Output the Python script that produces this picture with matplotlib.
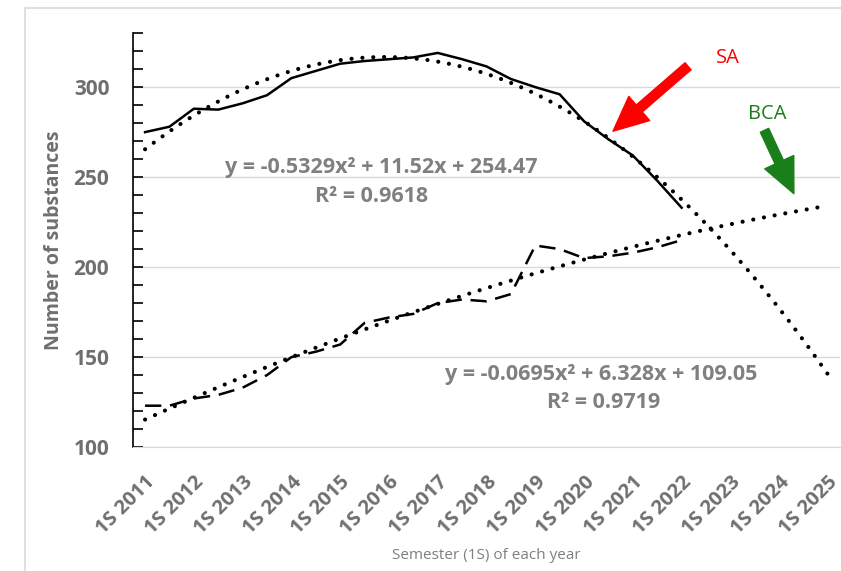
import numpy as np
import matplotlib.pyplot as plt
from matplotlib.patches import Rectangle

# one point per semester, 1 = 1S 2011 ... 29 = 1S 2025
semester = np.arange(1, 24)
sa_counts = [275, 278, 288, 287.5, 291, 295.5, 305, 309, 313, 314.5, 315.5,
             316.5, 319, 315.5, 311.5, 304.5, 300, 296, 281, 271, 262, 248, 233]
bca_counts = [123, 123, 127, 129, 133, 140, 150, 153, 157, 169, 172,
              174, 180, 182, 181, 185, 212, 210, 205, 206, 208, 211, 215]

# polynomial trend lines as printed on the chart (forecast to 1S 2025)
sa_coef = [-0.5329, 11.52, 254.47]
bca_coef = [-0.0695, 6.328, 109.05]
last_semester = 29

tick_pos = np.arange(1, last_semester + 1, 2)
tick_labels = [f"1S {y}" for y in range(2011, 2026)]

grey = '#6f6f6f'
plt.rcParams['font.family'] = ['Open Sans', 'DejaVu Sans']

fig = plt.figure(figsize=(8.41, 5.71), dpi=100)
ax = fig.add_axes([0.158, 0.217, 0.841, 0.725])

# light chart-area border
fig.patches.append(Rectangle((25 / 841, -0.05), 1.2, 1 - 8 / 571 + 0.05,
                             transform=fig.transFigure, fill=False,
                             edgecolor='#d9d9d9', linewidth=1.2))

xs = np.linspace(1, last_semester, 400)
dot = (0, (0.01, 2.6))
ax.plot(xs, np.polyval(sa_coef, xs), color='black', lw=3.0,
        linestyle=dot, dash_capstyle='round', zorder=2)
ax.plot(xs, np.polyval(bca_coef, xs), color='black', lw=3.0,
        linestyle=dot, dash_capstyle='round', zorder=2)

ax.plot(semester, sa_counts, color='black', lw=1.8, zorder=3)
ax.plot(semester, bca_counts, color='black', lw=1.8,
        linestyle=(0, (6.5, 3.5)), zorder=3)

ax.set_xlim(0.5, last_semester + 0.5)
ax.set_ylim(100, 330)
ax.set_yticks([100, 150, 200, 250, 300])
ax.set_yticks(np.arange(100, 331, 10), minor=True)
ax.grid(axis='y', color='#d9d9d9', lw=1)
ax.set_axisbelow(True)

ax.set_xticks(tick_pos)
ax.set_xticklabels(tick_labels, rotation=45, ha='right', va='top',
                   rotation_mode='anchor', fontsize=14.5, fontweight='bold',
                   color=grey)
ax.tick_params(axis='x', length=0, pad=18)
ax.tick_params(axis='y', which='both', direction='in', length=7, width=1.2,
               labelsize=15, labelcolor=grey, pad=17)
for lab in ax.get_yticklabels():
    lab.set_fontweight('bold')

for side in ['top', 'right']:
    ax.spines[side].set_visible(False)
ax.spines['bottom'].set_color('#d9d9d9')
ax.spines['left'].set_color('black')
ax.spines['left'].set_linewidth(1.2)

ax.set_ylabel('Number of substances', fontsize=14, fontweight='bold',
              color=grey, labelpad=7)
ax.set_xlabel('Semester (1S) of each year', fontsize=11, color='#7f7f7f',
              labelpad=7)

# trend equations
eq_style = dict(fontsize=15.5, fontweight='bold', color='#808080', ha='center')
ax.text(10.7, 255.5, 'y = -0.5329x² + 11.52x + 254.47', va='center', **eq_style)
ax.text(10.3, 239, 'R² = 0.9618', va='center', **eq_style)
ax.text(19.7, 140.5, 'y = -0.0695x² + 6.328x + 109.05', va='center', **eq_style)
ax.text(19.8, 125, 'R² = 0.9719', va='center', **eq_style)

# arrows pointing at each series
ax.annotate('', xy=(20.1, 274.5), xytext=(23.35, 312.6),
            arrowprops=dict(arrowstyle='simple,head_length=1.25,head_width=1.15,tail_width=0.33',
                            color='#ff0000', mutation_scale=20))
ax.text(24.9, 316.3, 'SA', color='#ff0000', fontsize=14.5, ha='center', va='center')
ax.annotate('', xy=(27.65, 239.4), xytext=(26.35, 277.4),
            arrowprops=dict(arrowstyle='simple,head_length=1.25,head_width=1.15,tail_width=0.33',
                            color='#1a7f1a', mutation_scale=20))
ax.text(26.5, 284.8, 'BCA', color='#1a7f1a', fontsize=14.5, ha='center', va='center')

fig.savefig('out.png', dpi=100)
